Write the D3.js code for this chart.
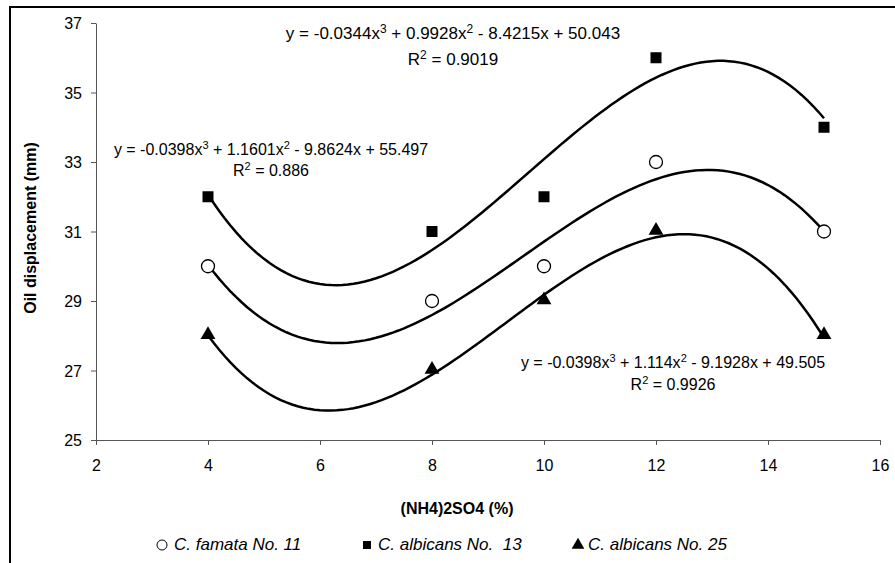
<!DOCTYPE html>
<html>
<head>
<meta charset="utf-8">
<script src="https://cdn.jsdelivr.net/npm/d3@7"></script>
<style>
  body { margin: 0; background: #fff; }
  svg text { font-family: Arial, "Liberation Sans", sans-serif; fill: #000; }
  .tick text { font-size: 16px; }
  .axis path, .axis line { stroke: #555; }
</style>
</head>
<body>
<div id="app"></div>
<script>
// data
var xValues = [4, 8, 10, 12, 15]
var famata11 = [30, 29, 30, 33, 31]
var albicans13 = [32, 31, 32, 36, 34]
var albicans25 = [28, 27, 29, 31, 28]

// printed trendline coefficients (a, b, c, d for ax^3+bx^2+cx+d)
var famataFit = [-0.0344, 0.9928, -8.4215, 50.043]
var albicans13Fit = [-0.0398, 1.1601, -9.8624, 55.497]
var albicans25Fit = [-0.0398, 1.114, -9.1928, 49.505]
var r2Labels = ["0.9019", "0.886", "0.9926"]

var xTicks = [2, 4, 6, 8, 10, 12, 14, 16]
var yTicks = [25, 27, 29, 31, 33, 35, 37]

var W = 895, H = 563

var svg = d3.select("#app").append("svg").attr("width", W).attr("height", H)

// outer frame (runs off right/bottom)
svg.append("rect").attr("x", 10).attr("y", 7).attr("width", 900).attr("height", 600)
  .attr("fill", "none").attr("stroke", "#000").attr("stroke-width", 2)

var x = d3.scaleLinear().domain([2, 16]).range([96, 880])
var y = d3.scaleLinear().domain([25, 37]).range([440, 23])

var xAxis = svg.append("g").attr("class", "axis").attr("transform", "translate(0," + y(25) + ")")
  .call(d3.axisBottom(x).tickValues(xTicks).tickSizeInner(5).tickSizeOuter(5).tickPadding(15))
var yAxis = svg.append("g").attr("class", "axis").attr("transform", "translate(" + x(2) + ",0)")
  .call(d3.axisLeft(y).tickValues(yTicks).tickSizeInner(5).tickSizeOuter(0).tickPadding(9))
yAxis.selectAll("text").attr("dy", "0.35em")

// axis titles
svg.append("text").text("(NH4)2SO4 (%)")
  .attr("x", 457).attr("y", 514).attr("text-anchor", "middle")
  .style("font-size", "16px").style("font-weight", "bold")
svg.append("text").text("Oil displacement (mm)")
  .attr("text-anchor", "middle").attr("transform", "translate(36,228) rotate(-90)")
  .style("font-size", "16px").style("font-weight", "bold")

function cubic(c) { return function(t) { return c[0]*t*t*t + c[1]*t*t + c[2]*t + c[3] } }

var line = d3.line().x(d => x(d[0])).y(d => y(d[1]))
function drawFit(coef) {
  var f = cubic(coef)
  var pts = d3.range(4, 15.001, 0.1).map(t => [t, f(t)])
  svg.append("path").datum(pts).attr("d", line)
    .attr("fill", "none").attr("stroke", "#000").attr("stroke-width", 2.5)
}
drawFit(famataFit)
drawFit(albicans13Fit)
drawFit(albicans25Fit)

// markers
svg.append("g").selectAll("circle").data(famata11).enter().append("circle")
  .attr("cx", (d, i) => x(xValues[i])).attr("cy", d => y(d)).attr("r", 6.5)
  .attr("fill", "#fff").attr("stroke", "#000").attr("stroke-width", 1.3)
svg.append("g").selectAll("rect").data(albicans13).enter().append("rect")
  .attr("x", (d, i) => x(xValues[i]) - 5.5).attr("y", d => y(d) - 5.5)
  .attr("width", 11).attr("height", 11).attr("fill", "#000")
var tri = d3.symbol().type(d3.symbolTriangle).size(95)
svg.append("g").selectAll("path").data(albicans25).enter().append("path")
  .attr("d", tri).attr("transform", (d, i) => "translate(" + x(xValues[i]) + "," + (y(d) - 1) + ")")
  .attr("fill", "#000")

// equation labels
function fmt(v) { return String(Math.abs(v)) }
function equation(coef, cx, by, r2, size, gap) {
  var sup = Math.round(size * 0.7)
  var t = svg.append("text").attr("x", cx).attr("y", by).attr("text-anchor", "middle").style("font-size", size + "px")
  t.append("tspan").text("y = " + (coef[0] < 0 ? "-" : "") + fmt(coef[0]) + "x")
  t.append("tspan").text("3").attr("dy", -6).style("font-size", sup + "px")
  t.append("tspan").text(" " + (coef[1] < 0 ? "-" : "+") + " " + fmt(coef[1]) + "x").attr("dy", 6)
  t.append("tspan").text("2").attr("dy", -6).style("font-size", sup + "px")
  t.append("tspan").text(" " + (coef[2] < 0 ? "-" : "+") + " " + fmt(coef[2]) + "x " + (coef[3] < 0 ? "-" : "+") + " " + fmt(coef[3])).attr("dy", 6)
  var r = svg.append("text").attr("x", cx).attr("y", by + gap).attr("text-anchor", "middle").style("font-size", size + "px")
  r.append("tspan").text("R")
  r.append("tspan").text("2").attr("dy", -6).style("font-size", sup + "px")
  r.append("tspan").text(" = " + r2).attr("dy", 6)
}
equation(famataFit, 453, 39, r2Labels[0], 17, 26)
equation(albicans13Fit, 271, 155, r2Labels[1], 16, 21)
equation(albicans25Fit, 673, 368, r2Labels[2], 16, 22)

// legend
var legend = svg.append("g").attr("transform", "translate(0,550)")
legend.append("circle").attr("cx", 162).attr("cy", -5).attr("r", 5).attr("fill", "#fff").attr("stroke", "#000")
legend.append("text").text("C. famata No. 11").attr("x", 174).style("font-size", "17px").style("font-style", "italic")
legend.append("rect").attr("x", 363).attr("y", -9).attr("width", 8).attr("height", 8).attr("fill", "#000")
legend.append("text").text("C. albicans No.  13").attr("x", 378).style("white-space", "pre").style("font-size", "17px").style("font-style", "italic")
legend.append("path").attr("d", d3.symbol().type(d3.symbolTriangle).size(70)).attr("transform", "translate(578,-5)").attr("fill", "#000")
legend.append("text").text("C. albicans No. 25").attr("x", 588).style("font-size", "17px").style("font-style", "italic")
</script>
</body>
</html>
